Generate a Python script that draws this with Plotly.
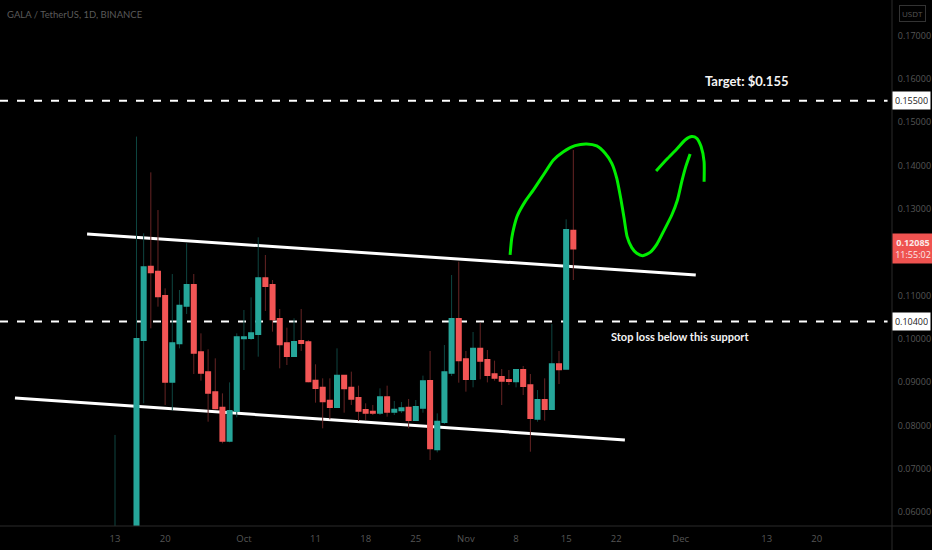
import pandas as pd
import plotly.graph_objects as go

DATES = ["2021-09-13"] + [d.strftime("%Y-%m-%d") for d in pd.date_range("2021-09-16", "2021-11-16")]
# one letter per candle: G rising, R falling
DIRECTION = ("G" + "GGRRRGGGRRRRRGG"
             + "GGGRRRRGRRRRRGRRRRRGRGGRGGRGGGR"
             + "RGRRRRRGRRGRGRGR")
BODY_TOP = [0.0540,
 .09995,.11650,.11666,.11550,.10988,.09895,.10765,.11242,.11242,.09687,.09225,.08763,.08409,.08332,.10034,
 .10034,.10126,.11396,.11396,.11243,.10458,.09896,.09926,.09950,.09919,.09033,.08872,.08572,.09149,.09149,
 .08872,.08633,.08356,.08317,.08648,.08648,.08364,.08394,.08410,.08425,.09018,.09025,.08086,.09225,.10457,.10457,
 .09526,.09772,.09772,.09510,.09179,.09118,.09048,.09279,.09279,.08925,.08586,.08586,.09410,.09410,.12512,.12497]
BODY_BOTTOM = [0.0520,
 .05200,.09972,.11535,.10981,.09010,.09010,.09895,.10765,.09680,.09218,.08756,.08394,.07647,.07647,.08332,
 .10011,.10018,.10111,.11219,.10450,.09873,.09603,.09603,.09903,.09018,.08864,.08556,.08425,.08425,.08856,
 .08618,.08341,.08294,.08294,.08294,.08317,.08317,.08348,.08125,.08125,.08410,.07470,.07447,.08078,.09218,.09502,
 .09071,.09071,.09495,.09164,.09102,.09033,.09025,.09017,.08910,.08171,.08155,.08378,.08378,.09295,.09310,.12085]
HIGH = [0.0778,
 .14670,.12436,.13844,.12974,.11165,.11496,.11127,.12205,.11496,.10126,.09757,.09549,.08740,.08994,.10126,
 .10665,.10957,.12343,.11935,.11358,.10689,.10257,.10473,.10689,.09973,.09411,.09087,.09087,.09780,.09149,
 .09241,.08918,.08510,.08472,.08856,.08918,.08564,.08541,.08610,.08587,.09149,.09718,.08278,.09856,.11473,.11781,
 .09718,.10157,.10372,.09741,.09495,.09302,.09279,.09279,.09372,.09187,.08817,.09087,.10342,.09718,.12759,.14360]
LOW = [0.0500,
 .05000,.08510,.10242,.10742,.08471,.08340,.09780,.10573,.09187,.09033,.08086,.08371,.07586,.07609,.08186,
 .09279,.09972,.09587,.10642,.10165,.09318,.09395,.09603,.09719,.08995,.08525,.07933,.08140,.08425,.08294,
 .08472,.08102,.08125,.08240,.08240,.08202,.08240,.08286,.07933,.08125,.08294,.07201,.07378,.08032,.09141,.08987,
 .08779,.08879,.09064,.08994,.09033,.08471,.08933,.08879,.08702,.07393,.08086,.08109,.08378,.08956,.09310,.11358]

# Hand-drawn overlays, as (days after 13 Sep 2021, price)
TOP_LINE_DAYS = [-3.9, 81.1]
TOP_LINE_PRICE = [0.12420, 0.11473]
LOW_LINE_DAYS = [-13.97, 71.2]
LOW_LINE_PRICE = [0.08633, 0.07663]
ARC1_DAYS = [55.17,55.40,55.73,56.19,57.26,58.43,59.82,61.22,62.62,64.25,65.87,67.27,68.44,69.37,70.07,70.62,71.09,71.51,72.16,72.86,73.70,74.72,75.65,76.58,77.75,78.54,79.14,79.70,80.31]
ARC1_PRICE = [.11936,.12321,.12590,.12844,.13167,.13437,.13783,.14130,.14322,.14461,.14499,.14453,.14284,.14053,.13706,.13244,.12782,.12359,.12105,.11974,.11920,.11997,.12182,.12475,.12859,.13206,.13629,.13976,.14268]
ARC2_DAYS = [75.56,77.05,78.45,79.61,80.54,81.24,81.84,82.26,82.26]
ARC2_PRICE = [.13876,.14145,.14384,.14592,.14669,.14630,.14438,.14091,.13629]

LEVELS = [0.155, 0.104]
LAST_PRICE = 0.12085
Y_SHOWN = [0.06,0.07,0.08,0.09,0.10,0.11,0.13,0.14,0.15,0.16,0.17]
X_TICK_DATES = ["2021-09-13","2021-09-20","2021-10-01","2021-10-11","2021-10-18","2021-10-25","2021-11-01","2021-11-08","2021-11-15","2021-11-22","2021-12-01","2021-12-13","2021-12-20"]
X_TICK_TEXT = ["13","20","Oct","11","18","25","Nov","8","15","22","Dec","13","20"]

n = len(DATES)
assert len(DIRECTION) == n
OPEN = [b if d == "G" else t for d, t, b in zip(DIRECTION, BODY_TOP, BODY_BOTTOM)]
CLOSE = [t if d == "G" else b for d, t, b in zip(DIRECTION, BODY_TOP, BODY_BOTTOM)]
assert len(OPEN) == n and len(HIGH) == n and len(LOW) == n, (len(OPEN), len(HIGH), len(LOW), n)

BASE = pd.Timestamp("2021-09-13")
def day(d):
    return BASE + pd.to_timedelta(d, unit="D")
def days(lst):
    return [day(d) for d in lst]

TEAL, RED = "#26a69a", "#f25555"
DTEAL, DRED = "#0e4540", "#662424"
GREY = "#565656"
AXFONT = "Open Sans, sans-serif"

fig = go.Figure()
fig.add_trace(go.Candlestick(x=DATES, open=OPEN, high=HIGH, low=LOW, close=CLOSE,
    increasing=dict(line=dict(color=DTEAL, width=1), fillcolor=DTEAL),
    decreasing=dict(line=dict(color=DRED, width=1), fillcolor=DRED),
    whiskerwidth=0, hoverinfo="skip", showlegend=False))
fig.add_trace(go.Candlestick(x=DATES, open=OPEN, high=BODY_TOP, low=BODY_BOTTOM, close=CLOSE,
    increasing=dict(line=dict(color=TEAL, width=2), fillcolor=TEAL),
    decreasing=dict(line=dict(color=RED, width=2), fillcolor=RED),
    whiskerwidth=0, hoverinfo="skip", showlegend=False))
for dd, pp in ((ARC1_DAYS, ARC1_PRICE), (ARC2_DAYS, ARC2_PRICE)):
    fig.add_trace(go.Scatter(x=days(dd), y=pp, mode="lines", hoverinfo="skip", showlegend=False,
        line=dict(color="#00ee00", width=3, shape="spline", smoothing=0.6)))

shapes = []
for dd, pp in ((TOP_LINE_DAYS, TOP_LINE_PRICE), (LOW_LINE_DAYS, LOW_LINE_PRICE)):
    shapes.append(dict(type="line", layer="below", xref="x", yref="y", x0=day(dd[0]), x1=day(dd[1]), y0=pp[0], y1=pp[1],
                       line=dict(color="#ffffff", width=3)))
for lv in LEVELS:
    shapes.append(dict(type="line", layer="below", xref="paper", yref="y", x0=0, x1=0.995, y0=lv, y1=lv,
                       line=dict(color="#ffffff", width=2, dash="8px,9px")))
shapes.append(dict(type="line", xref="paper", yref="paper", x0=1, x1=1, y0=-24/526, y1=1, line=dict(color="#2a2a2a", width=1)))
shapes.append(dict(type="line", xref="paper", yref="paper", x0=0, x1=932/892, y0=0, y1=0, line=dict(color="#2a2a2a", width=1)))
fig.update_layout(shapes=shapes)

anns = [
    dict(text="GALA / TetherUS, 1D, BINANCE", xref="paper", yref="paper", x=5/892, y=1-15/526, xanchor="left", yanchor="middle",
         showarrow=False, font=dict(family="Lato", size=9.5, color="#5a5a5a")),
    dict(text="<b>Target: $0.155</b>", x=day(88.3), y=0.15954, showarrow=False,
         font=dict(family="Lato", size=13, color="#f4f4f4")),
    dict(text="<b>Stop loss below this support</b>", x=day(78.9), y=0.10042, showarrow=False,
         font=dict(family="Lato", size=11, color="#f4f4f4")),
    dict(text="USDT", xref="paper", yref="paper", x=912/892, y=1-13.5/526, xanchor="center", yanchor="middle", showarrow=False,
         bordercolor="#333333", borderwidth=1, borderpad=2, font=dict(family=AXFONT, size=8, color=GREY)),
]
for lv in LEVELS:
    anns.append(dict(text=f"{lv:.5f}", xref="paper", yref="y", x=1, y=lv, xanchor="left", yanchor="middle", showarrow=False,
                     bgcolor="#ffffff", borderpad=2, width=33, font=dict(family=AXFONT, size=9, color="#222222")))
anns.append(dict(text=f"<b>{LAST_PRICE:.5f}</b><br>11:55:02", xref="paper", yref="y", x=1, y=LAST_PRICE, xanchor="left", yanchor="middle",
                 showarrow=False, bgcolor="#ef5350", borderpad=2, width=36, font=dict(family=AXFONT, size=9, color="#fbe9e9")))
fig.update_layout(annotations=anns)

fig.update_layout(
    width=932, height=550, margin=dict(l=0, r=40, t=0, b=24, autoexpand=False),
    paper_bgcolor="#000000", plot_bgcolor="#000000", showlegend=False, hovermode=False,
    boxgap=0.2,
    xaxis=dict(type="date", range=[day(-16.06), day(108.5)], rangeslider=dict(visible=False), showgrid=False, zeroline=False,
               showline=False, tickmode="array", tickvals=X_TICK_DATES, ticktext=X_TICK_TEXT, ticks="outside", ticklen=4, tickcolor="rgba(0,0,0,0)",
               tickfont=dict(family=AXFONT, size=9.5, color=GREY), tickangle=0, automargin=False),
    yaxis=dict(side="right", range=[0.05677, 0.17824], showgrid=False, zeroline=False, showline=False,
               tickmode="array", tickvals=Y_SHOWN, ticktext=[f"{t:.5f}" for t in Y_SHOWN], ticks="outside", ticklen=3, tickcolor="rgba(0,0,0,0)",
               tickfont=dict(family=AXFONT, size=9, color=GREY), automargin=False),
)
fig.write_html("out.html", config={"displayModeBar": False},
               post_script="document.body.style.margin='0';document.body.style.background='#000';")
